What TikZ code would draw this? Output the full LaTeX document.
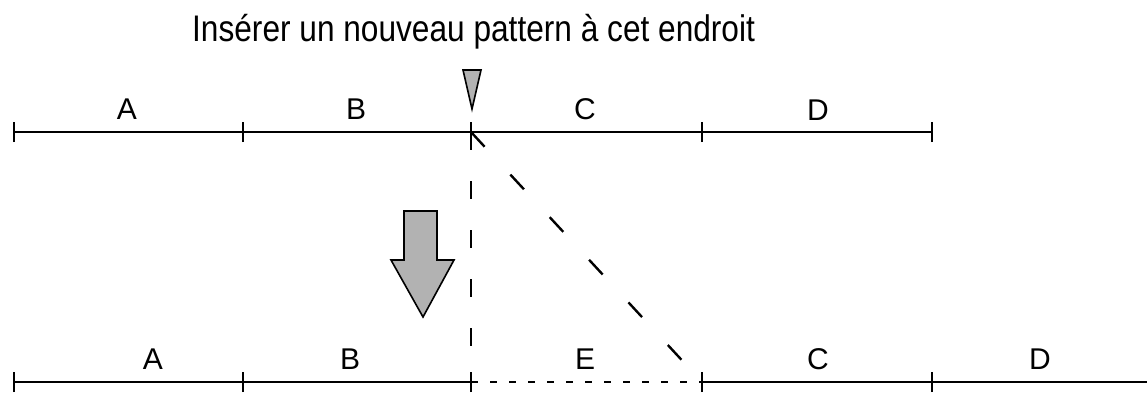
\documentclass[tikz,border=0pt]{standalone}
\usepackage{fontspec}
\setmainfont{Liberation Sans}
\newfontfamily\titlefont[FakeStretch=0.855]{Liberation Sans}
\begin{document}
\begin{tikzpicture}[x=1pt,y=-1pt,
  seg/.style={line width=1.8pt},
  tickmark/.style={line width=2pt},
  lbl/.style={anchor=base,inner sep=0pt,font=\fontsize{30}{34}\selectfont},
  ttl/.style={anchor=base west,inner sep=0pt,font=\titlefont\fontsize{37}{40}\selectfont},
  vdash/.style={line width=2.4pt,dash pattern=on 18pt off 31pt},
  ddash/.style={line width=2.4pt,dash pattern=on 20pt off 38pt},
  hdot/.style={line width=2pt,dash pattern=on 7pt off 12pt},
  grayfill/.style={draw=black,line width=1.6pt,fill=gray!60}]
\useasboundingbox (0,0) rectangle (1147,394);
% title
\node[ttl] (title) at (192,41) {Insérer un nouveau pattern à cet endroit};
% top row coordinates
\coordinate (t1) at (14,132);
\coordinate (t2) at (243,132);
\coordinate (t3) at (471,132);
\coordinate (t4) at (702,132);
\coordinate (t5) at (932,132);
% bottom row coordinates
\coordinate (b1) at (14,382);
\coordinate (b2) at (243,382);
\coordinate (b3) at (471,382);
\coordinate (b4) at (702,382);
\coordinate (b5) at (932,382);
\coordinate (b6) at (1147,382);
% top segments
\draw[seg] (t1) -- (t2) -- (t3) -- (t4) -- (t5);
\foreach \p in {t1,t2,t3,t4,t5}
  \draw[tickmark] ([yshift=-10pt]\p) -- ([yshift=10pt]\p);
% bottom segments
\draw[seg] (b1) -- (b2) -- (b3);
\draw[hdot] (b3) -- (b4);
\draw[seg] (b4) -- (b5) -- (b6);
\foreach \p in {b1,b2,b3,b4,b5}
  \draw[tickmark] ([yshift=-10pt]\p) -- ([yshift=10pt]\p);
% labels top
\node[lbl] (tA) at (127,119) {A};
\node[lbl] (tB) at (356,119) {B};
\node[lbl] (tC) at (585,119) {C};
\node[lbl] (tD) at (818,120) {D};
% labels bottom
\node[lbl] (bA) at (153,369) {A};
\node[lbl] (bB) at (350,369) {B};
\node[lbl] (bE) at (585,369) {E};
\node[lbl] (bC) at (818,369) {C};
\node[lbl] (bD) at (1040,369) {D};
% insertion marker
\draw[grayfill] (463,70) -- (481,70) -- (472,109) -- cycle;
% dashed guides
\draw[vdash] (t3) -- (b3);
\draw[ddash] (t3) -- (b4);
% big arrow
\draw[grayfill] (404,211) -- (437,211) -- (437,260) -- (454,260) -- (423,317)
  -- (391,260) -- (404,260) -- cycle;
\end{tikzpicture}
\end{document}
